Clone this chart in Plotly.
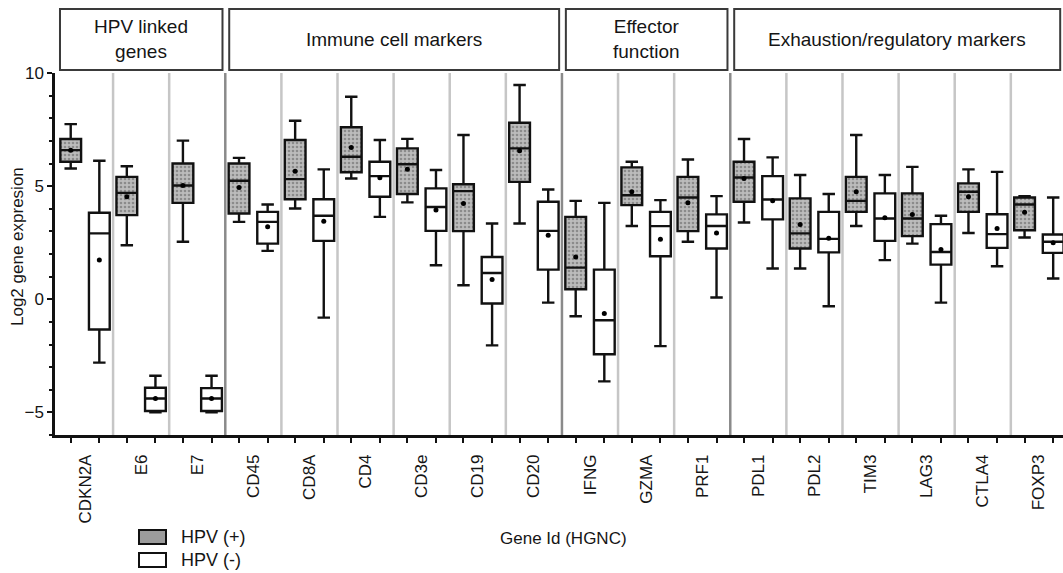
import plotly.graph_objects as go

genes = ['CDKN2A', 'E6', 'E7', 'CD45', 'CD8A', 'CD4', 'CD3e', 'CD19', 'CD20',
         'IFNG', 'GZMA', 'PRF1', 'PDL1', 'PDL2', 'TIM3', 'LAG3', 'CTLA4', 'FOXP3']

# HPV (+) box statistics (log2 expression)
pos_lo = [5.78, 2.39, 2.54, 3.42, 4.01, 5.34, 4.28, 0.62, 3.35, -0.75, 3.24, 2.54, 3.39, 1.36, 3.24, 2.46, 2.93, 2.73]
pos_q1 = [6.08, 3.72, 4.26, 3.79, 4.42, 5.61, 4.65, 3.01, 5.19, 0.44, 4.16, 3.01, 4.31, 2.24, 3.86, 2.79, 3.86, 3.05]
pos_med = [6.59, 4.70, 5.03, 5.24, 5.31, 6.30, 5.97, 4.78, 6.67, 1.40, 4.60, 4.50, 5.38, 2.91, 4.35, 3.57, 4.75, 4.19]
pos_q3 = [7.08, 5.41, 6.00, 6.00, 7.04, 7.60, 6.67, 5.08, 7.80, 3.64, 5.83, 5.41, 6.08, 4.46, 5.41, 4.68, 5.12, 4.50]
pos_hi = [7.74, 5.88, 7.01, 6.25, 7.89, 8.95, 7.09, 7.26, 9.47, 4.35, 6.08, 6.18, 7.08, 5.49, 7.26, 5.85, 5.74, 4.56]
pos_mean = [6.59, 4.53, 5.03, 4.94, 5.66, 6.71, 5.75, 4.23, 6.56, 1.87, 4.75, 4.26, 5.34, 3.30, 4.75, 3.75, 4.53, 3.84]

# HPV (-) box statistics
neg_lo = [-2.80, -5.00, -5.00, 2.14, -0.81, 3.64, 1.50, -2.04, -0.15, -3.63, -2.07, 0.08, 1.36, -0.31, 1.73, -0.15, 1.46, 0.92]
neg_q1 = [-1.34, -4.94, -4.94, 2.46, 2.58, 4.53, 3.02, -0.19, 1.31, -2.43, 1.90, 2.24, 3.53, 2.07, 2.58, 1.53, 2.27, 2.05]
neg_med = [2.91, -4.39, -4.39, 3.42, 3.69, 5.44, 4.08, 1.16, 3.02, -0.93, 3.23, 3.24, 4.41, 2.67, 3.57, 2.09, 2.88, 2.54]
neg_q3 = [3.82, -3.91, -3.93, 3.86, 4.42, 6.08, 4.90, 1.87, 4.31, 1.31, 3.86, 3.75, 5.44, 3.86, 4.68, 3.32, 3.76, 2.86]
neg_hi = [6.12, -3.38, -3.38, 4.19, 5.74, 7.04, 5.71, 3.35, 4.85, 4.26, 4.38, 4.56, 6.27, 4.65, 5.49, 3.69, 5.63, 4.50]
neg_mean = [1.73, -4.39, -4.39, 3.20, 3.45, 5.37, 3.94, 0.87, 2.83, -0.63, 2.65, 2.93, 4.35, 2.70, 3.60, 2.20, 3.13, 2.50]

groups = ['HPV linked<br>genes', 'Immune cell markers', 'Effector<br>function', 'Exhaustion/regulatory markers']
group_spans = [(0, 2), (3, 8), (9, 11), (12, 17)]  # first/last gene index in each group

y_ticks = [-5, 0, 5, 10]

FONT = 'Arial, Liberation Sans, sans-serif'
TXT = '#151515'
W, H = 1063, 573
ML, MT, MB = 55, 73, 138
PH = H - MT - MB
OFF = 0.255
BW = 0.37

idx = list(range(len(genes)))
x_pos = [i - OFF for i in idx]
x_neg = [i + OFF for i in idx]

fig = go.Figure()

# stippled fill for HPV(+) boxes
fig.add_trace(go.Bar(
    x=x_pos, y=[b - a for a, b in zip(pos_q1, pos_q3)], base=pos_q1, width=BW,
    marker=dict(color='#bcbcbc', line_width=0,
                pattern=dict(shape='.', fgcolor='#5a5a5a', bgcolor='#bcbcbc', size=4, solidity=0.35)),
    showlegend=False, hoverinfo='skip'))

fig.add_trace(go.Box(
    x=x_pos, q1=pos_q1, median=pos_med, q3=pos_q3, lowerfence=pos_lo, upperfence=pos_hi,
    width=BW, whiskerwidth=0.6, fillcolor='rgba(0,0,0,0)',
    line=dict(color='#111111', width=2.4), name='HPV (+)', showlegend=False))
fig.add_trace(go.Box(
    x=x_neg, q1=neg_q1, median=neg_med, q3=neg_q3, lowerfence=neg_lo, upperfence=neg_hi,
    width=BW, whiskerwidth=0.6, fillcolor='white',
    line=dict(color='#111111', width=2.4), name='HPV (-)', showlegend=False))

fig.add_trace(go.Scatter(x=x_pos + x_neg, y=pos_mean + neg_mean, mode='markers',
                         marker=dict(color='black', size=5, symbol='circle'),
                         showlegend=False, hoverinfo='skip'))

shapes = []
# separators between genes
group_bounds = [g[1] + 0.5 for g in group_spans[:-1]]
for i in range(len(genes) - 1):
    b = i + 0.5
    is_group = b in group_bounds
    shapes.append(dict(type='line', xref='x', yref='y', x0=b, x1=b, y0=-6, y1=10,
                       line=dict(color='#8a8a8a' if is_group else '#c6c6c6', width=2.5),
                       layer='below'))

# group header boxes
ytop = (H - MB - 9) / PH
ybot = (H - MB - 70) / PH
annotations = []
for gi, (name, (a, b)) in enumerate(zip(groups, group_spans)):
    x0 = a - 0.5 + 0.07 if gi > 0 else -0.446
    x1 = b + 0.5 - 0.05 if gi < len(groups) - 1 else 17.38
    shapes.append(dict(type='rect', xref='x', yref='paper', x0=x0, x1=x1, y0=ybot, y1=ytop,
                       line=dict(color='#3a3a3a', width=2), fillcolor='white'))
    annotations.append(dict(xref='x', yref='paper', x=(x0 + x1) / 2, y=(ytop + ybot) / 2,
                            text=name, showarrow=False, font=dict(size=19, color=TXT, family=FONT),
                            xanchor='center', yanchor='middle'))

def px_to_paper_x(px):
    return (px - ML) / (W - ML)

def py_to_paper_y(py):
    return (H - MB - py) / PH

# legend
shapes.append(dict(type='rect', xref='paper', yref='paper',
                   x0=px_to_paper_x(139), x1=px_to_paper_x(166),
                   y0=py_to_paper_y(544), y1=py_to_paper_y(530),
                   line=dict(color='#111111', width=2), fillcolor='#9c9c9c'))
shapes.append(dict(type='rect', xref='paper', yref='paper',
                   x0=px_to_paper_x(139), x1=px_to_paper_x(166),
                   y0=py_to_paper_y(567), y1=py_to_paper_y(553),
                   line=dict(color='#111111', width=2), fillcolor='white'))
for txt, py in [('HPV (+)', 537), ('HPV (-)', 560)]:
    annotations.append(dict(xref='paper', yref='paper', x=px_to_paper_x(179), y=py_to_paper_y(py),
                            text=txt, showarrow=False, xanchor='left', yanchor='middle',
                            font=dict(size=18, color=TXT, family=FONT)))

annotations.append(dict(xref='paper', yref='paper', x=px_to_paper_x(563), y=py_to_paper_y(538),
                        text='Gene Id (HGNC)', showarrow=False, xanchor='center', yanchor='middle',
                        font=dict(size=17, color=TXT, family=FONT)))
annotations.append(dict(xref='paper', yref='paper', x=px_to_paper_x(17), y=py_to_paper_y(247),
                        text='Log2 gene expresion', showarrow=False, textangle=-90,
                        xanchor='center', yanchor='middle',
                        font=dict(size=17, color=TXT, family=FONT)))

fig.update_layout(
    width=W, height=H, margin=dict(l=ML, r=0, t=MT, b=MB),
    paper_bgcolor='white', plot_bgcolor='white',
    boxmode='overlay', barmode='overlay', bargap=0,
    font=dict(family=FONT, color=TXT),
    shapes=shapes, annotations=annotations, showlegend=False,
    xaxis=dict(range=[-0.535, 17.43], tickmode='array', tickvals=idx, ticktext=genes,
               tickangle=-90, ticks='', showgrid=False, zeroline=False,
               showline=True, linecolor='#111111', linewidth=2.5,
               ticklabelstandoff=10, tickfont=dict(size=17, family=FONT, color=TXT),
               minor=dict(tickmode='array', tickvals=sorted(x_pos + x_neg), ticks='outside',
                          ticklen=5, tickwidth=2, tickcolor='#111111', showgrid=False)),
    yaxis=dict(range=[-6, 10], tickmode='array', tickvals=y_ticks, ticks='outside',
               ticklen=5, tickwidth=2, tickcolor='#111111', showgrid=False, zeroline=False,
               showline=True, linecolor='#111111', linewidth=2.5,
               tickfont=dict(size=17, family=FONT, color=TXT),
               minor=dict(dtick=1, ticks='outside', ticklen=3, tickwidth=1.5,
                          tickcolor='#111111', showgrid=False)),
)

fig.write_html('out.html')
